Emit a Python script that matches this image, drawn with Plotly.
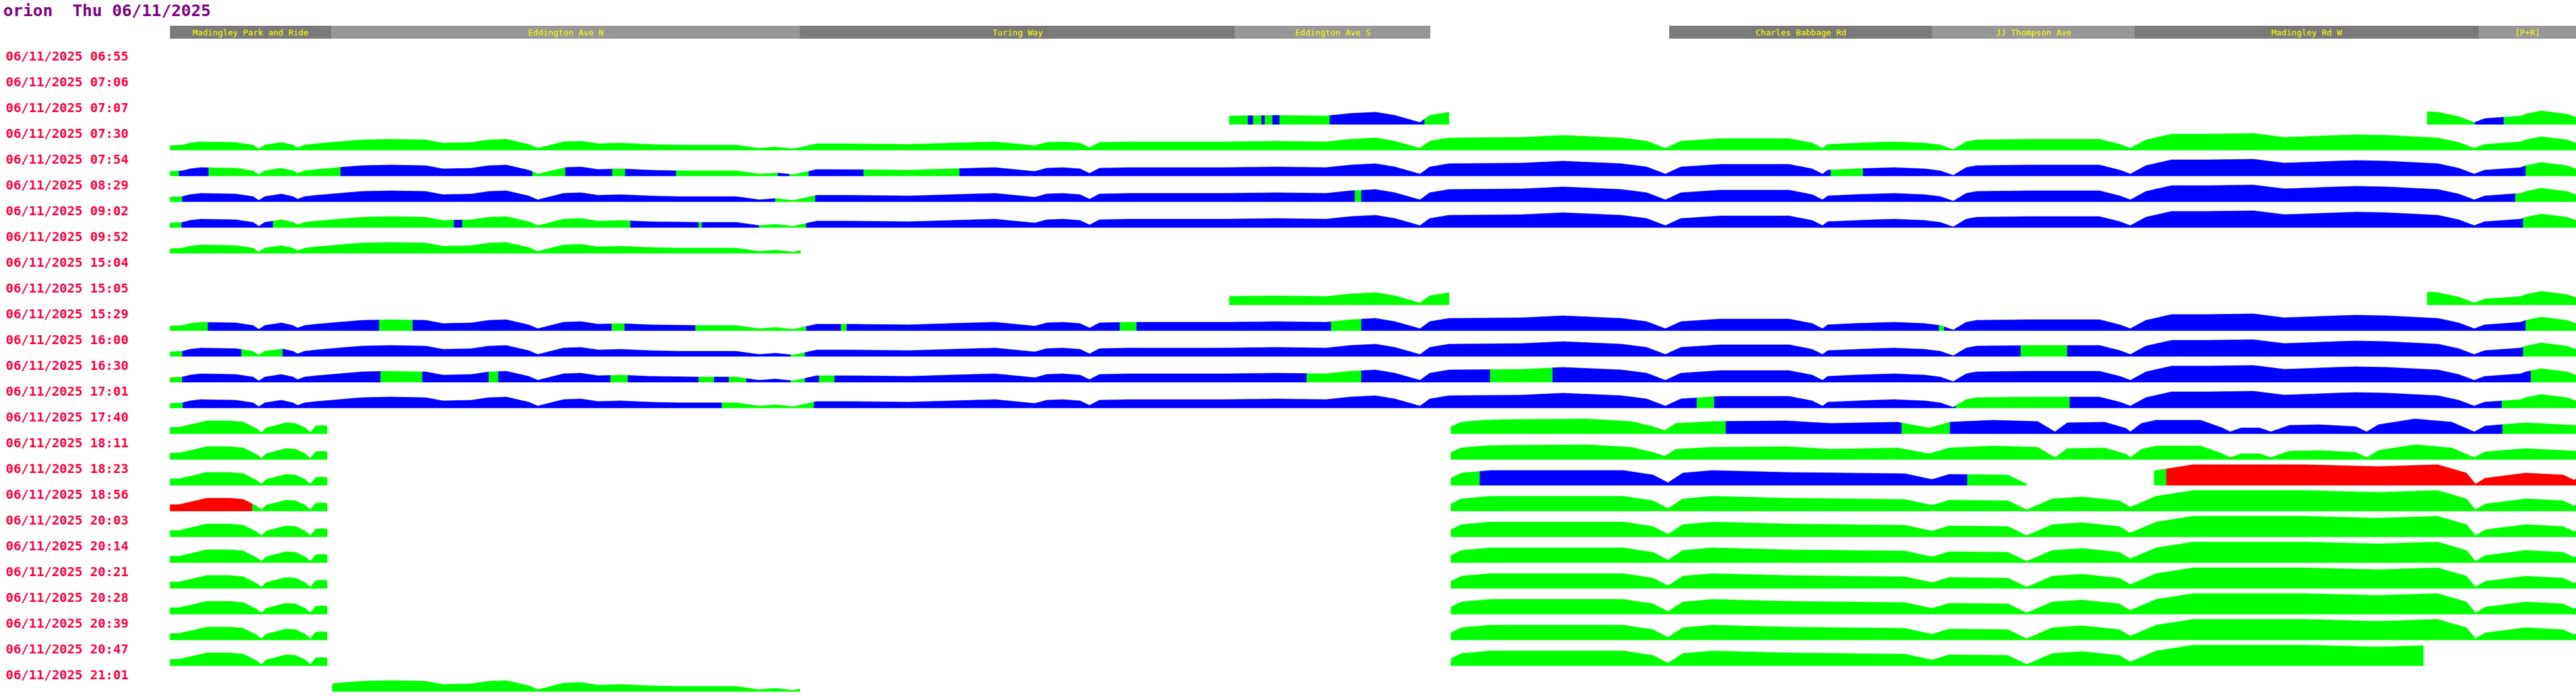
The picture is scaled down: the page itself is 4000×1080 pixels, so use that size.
import numpy as np
import plotly.graph_objects as go

# ---------------- data ----------------
title_text = "orion  Thu 06/11/2025"
row_date = "06/11/2025"
row_times = ["06:55", "07:06", "07:07", "07:30", "07:54", "08:29", "09:02", "09:52",
             "15:04", "15:05", "15:29", "16:00", "16:30", "17:01", "17:40", "18:11",
             "18:23", "18:56", "20:03", "20:14", "20:21", "20:28", "20:39", "20:47", "21:01"]

section_names = ["Madingley Park and Ride", "Eddington Ave N", "Turing Way", "Eddington Ave S",
                 "Charles Babbage Rd", "JJ Thompson Ave", "Madingley Rd W", "[P+R]"]
section_start = [264, 514, 1242, 1917, 2592, 3000, 3315, 3849]
section_end = [514, 1242, 1917, 2221, 3000, 3315, 3849, 4000]
section_shade = ["dark", "light", "dark", "light", "dark", "light", "dark", "light"]

# speed profile along the route (daytime journeys)
day_x = [264, 283, 295, 312, 366, 393, 402, 411, 437, 455, 462, 473, 491, 536, 562, 607, 661,
         688, 732, 759, 786, 821, 835, 875, 902, 929, 964, 1009, 1054, 1143, 1179, 1204, 1232,
         1268, 1321, 1411, 1473, 1545, 1607, 1625, 1650, 1677, 1692, 1707,
         1753, 1830, 1906, 1983, 2059, 2097, 2136, 2166, 2205, 2220, 2250, 2365, 2427, 2518,
         2557, 2586, 2610, 2671, 2778, 2814, 2830, 2838, 2878, 2909, 2941, 2989, 3013, 3033,
         3053, 3069, 3149, 3260, 3292, 3308, 3332, 3372, 3428, 3499, 3547, 3627, 3659, 3707,
         3786, 3818, 3842, 3858, 3914, 3922, 3946, 3986, 4000]
day_h = [7, 8, 11, 13, 12, 8, 2, 8, 12, 8, 4, 8, 10, 14, 16, 17, 16,
         11, 12, 16, 17, 9, 3, 13, 14, 10, 11, 9, 8, 8, 3, 5, 2,
         10, 10, 9, 11, 13, 7, 12, 13, 11, 4, 12,
         13, 13, 13, 14, 13, 17, 19, 14, 3, 14, 19, 20, 23, 19,
         14, 3, 14, 18, 18, 11, 3, 9, 11, 12, 13, 11, 8, 1,
         13, 16, 17, 17, 9, 3, 16, 25, 25, 26, 20, 23, 24, 23,
         19, 12, 3, 9, 13, 16, 21, 16, 11]

# evening journeys, western loop
eve_left_x = [264, 278, 286, 306, 321, 357, 378, 398, 406, 413, 429, 444, 459, 474, 482, 490, 500, 508]
eve_left_h = [10, 10, 12, 17, 20, 20, 18, 8, 2, 9, 13, 17, 16, 9, 2, 12, 13, 12]

# early evening, eastern part
eve_a_x = [2253, 2269, 2303, 2338, 2464, 2533, 2567, 2585, 2602, 2659, 2774, 2843, 2889, 2946,
           2996, 3027, 3095, 3164, 3191, 3210, 3268, 3302, 3308, 3325, 3348, 3417, 3451, 3463,
           3480, 3509, 3526, 3555, 3601, 3658, 3675, 3693, 3750, 3807, 3842, 3859, 3922, 4000]
eve_a_h = [11, 18, 21, 22, 23, 19, 11, 5, 16, 19, 20, 16, 17, 18,
           9, 18, 21, 19, 3, 17, 18, 8, 3, 16, 21, 21, 9, 3,
           9, 9, 3, 13, 14, 11, 3, 14, 23, 18, 3, 12, 17, 13]

# late evening, eastern part
eve_b_x = [2253, 2269, 2315, 2430, 2521, 2567, 2590, 2613, 2659, 2774, 2889, 2958, 3000, 3027,
           3118, 3147, 3187, 3233, 3291, 3308, 3348, 3406, 3578, 3693, 3785, 3830, 3844, 3859,
           3922, 3980, 3997, 4000]
eve_b_h = [11, 19, 23, 23, 23, 16, 4, 19, 23, 20, 19, 18, 9, 17,
           16, 2, 19, 22, 16, 6, 23, 32, 32, 29, 32, 19, 2, 11,
           19, 16, 8, 10]

row_profile = ["day", "day", "day", "day", "day", "day", "day", "day", "day", "day", "day", "day",
               "day", "day", "eveA", "eveA", "eveB", "eveB", "eveB", "eveB", "eveB", "eveB",
               "eveB", "eveB", "day"]

# status segments along the route: (from, to, status)  g=normal b=slow r=very slow
row_segments = [
    [],
    [],
    [(1909, 1938, "g"), (1938, 1946, "b"), (1946, 1959, "g"), (1959, 1964, "b"), (1964, 1976, "g"),
     (1976, 1987, "b"), (1987, 2065, "g"), (2065, 2212, "b"), (2212, 2250, "g"),
     (3769, 3843, "g"), (3843, 3888, "b"), (3888, 4000, "g")],
    [(264, 4000, "g")],
    [(264, 278, "g"), (278, 324, "b"), (324, 529, "g"), (529, 827, "b"), (827, 878, "g"),
     (878, 951, "b"), (951, 971, "g"), (971, 1050, "b"), (1050, 1208, "g"), (1208, 1226, "b"),
     (1226, 1256, "g"), (1256, 1341, "b"), (1341, 1490, "g"), (1490, 2843, "b"), (2843, 2893, "g"),
     (2893, 3922, "b"), (3922, 4000, "g")],
    [(264, 283, "g"), (283, 1204, "b"), (1204, 1266, "g"), (1266, 2104, "b"), (2104, 2114, "g"),
     (2114, 3906, "b"), (3906, 4000, "g")],
    [(264, 282, "g"), (282, 424, "b"), (424, 705, "g"), (705, 718, "b"), (718, 979, "g"),
     (979, 1085, "b"), (1085, 1090, "g"), (1090, 1179, "b"), (1179, 1252, "g"), (1252, 3918, "b"),
     (3918, 4000, "g")],
    [(264, 1243, "g")],
    [],
    [(1909, 2250, "g"), (3769, 4000, "g")],
    [(264, 323, "g"), (323, 589, "b"), (589, 641, "g"), (641, 950, "b"), (950, 970, "g"),
     (970, 1080, "b"), (1080, 1252, "g"), (1252, 1306, "b"), (1306, 1315, "g"), (1315, 1739, "b"),
     (1739, 1765, "g"), (1765, 2067, "b"), (2067, 2114, "g"), (2114, 3011, "b"), (3011, 3019, "g"),
     (3019, 3922, "b"), (3922, 4000, "g")],
    [(264, 283, "g"), (283, 375, "b"), (375, 439, "g"), (439, 1228, "b"), (1228, 1250, "g"),
     (1250, 3138, "b"), (3138, 3210, "g"), (3210, 3918, "b"), (3918, 4000, "g")],
    [(264, 283, "g"), (283, 591, "b"), (591, 656, "g"), (656, 759, "b"), (759, 774, "g"),
     (774, 948, "b"), (948, 975, "g"), (975, 1085, "b"), (1085, 1109, "g"), (1109, 1132, "b"),
     (1132, 1159, "g"), (1159, 1228, "b"), (1228, 1250, "g"), (1250, 1272, "b"), (1272, 1296, "g"),
     (1296, 2029, "b"), (2029, 2114, "g"), (2114, 2314, "b"), (2314, 2411, "g"), (2411, 3930, "b"),
     (3930, 4000, "g")],
    [(264, 284, "g"), (284, 1121, "b"), (1121, 1264, "g"), (1264, 2635, "b"), (2635, 2662, "g"),
     (2662, 3037, "b"), (3037, 3214, "g"), (3214, 3885, "b"), (3885, 4000, "g")],
    [(264, 508, "g"), (2253, 2680, "g"), (2680, 2953, "b"), (2953, 3028, "g"), (3028, 3886, "b"),
     (3886, 4000, "g")],
    [(264, 508, "g"), (2253, 4000, "g")],
    [(264, 508, "g"), (2253, 2298, "g"), (2298, 3055, "b"), (3055, 3147, "g"), (3345, 3364, "g"),
     (3364, 4000, "r")],
    [(264, 392, "r"), (392, 508, "g"), (2253, 4000, "g")],
    [(264, 508, "g"), (2253, 4000, "g")],
    [(264, 508, "g"), (2253, 4000, "g")],
    [(264, 508, "g"), (2253, 4000, "g")],
    [(264, 508, "g"), (2253, 4000, "g")],
    [(264, 508, "g"), (2253, 4000, "g")],
    [(264, 508, "g"), (2253, 3763, "g")],
    [(516, 1242, "g")],
]

# ---------------- styles ----------------
STATUS_COLOR = {"g": "#00ff00", "b": "#0000ff", "r": "#ff0000"}
SHADE_COLOR = {"dark": "#7a7a7a", "light": "#979797"}
SPEED_PER_ROW = 40.0   # speed units that fill one row band
MONO = "DejaVu Sans Mono"

profiles = {
    "day": (np.array(day_x, float), np.array(day_h, float)),
    "eveA": (np.array(eve_left_x + eve_a_x, float), np.array(eve_left_h + eve_a_h, float)),
    "eveB": (np.array(eve_left_x + eve_b_x, float), np.array(eve_left_h + eve_b_h, float)),
}

fig = go.Figure()

for i, segs in enumerate(row_segments):
    px, ph = profiles[row_profile[i]]
    for (a, b, s) in segs:
        inner = (px > a) & (px < b)
        xs = np.concatenate([[a], px[inner], [b]])
        hs = np.concatenate([[np.interp(a, px, ph)], ph[inner], [np.interp(b, px, ph)]])
        poly_x = np.concatenate([[a], xs, [b, a]])
        poly_y = np.concatenate([[i], i - hs / SPEED_PER_ROW, [i, i]])
        fig.add_trace(go.Scatter(
            x=poly_x, y=poly_y, mode="lines", fill="toself",
            fillcolor=STATUS_COLOR[s], line=dict(color=STATUS_COLOR[s], width=0.6),
            hoverinfo="skip", showlegend=False))

annotations = []
shapes = []

# row labels
for i, t in enumerate(row_times):
    annotations.append(dict(
        x=7, y=i - 0.64, xref="x", yref="y", xanchor="left", yanchor="middle",
        text=f"<b>{row_date} {t}</b>", showarrow=False,
        font=dict(family=MONO, size=19.8, color="#ff0040")))

# header sections
for name, a, b, shade in zip(section_names, section_start, section_end, section_shade):
    shapes.append(dict(type="rect", xref="x", yref="y", x0=a, x1=b, y0=-1.825, y1=-1.325,
                       fillcolor=SHADE_COLOR[shade], line=dict(width=0), layer="below"))
    annotations.append(dict(
        x=(a + b) / 2, y=-1.575, xref="x", yref="y", xanchor="center", yanchor="middle",
        text=name, showarrow=False, font=dict(family=MONO, size=13, color="#ffff00")))

# title
annotations.append(dict(
    x=3, y=-2.43, xref="x", yref="y", xanchor="left", yanchor="middle",
    text=f"<b>{title_text}</b>", showarrow=False,
    font=dict(family=MONO, size=25.5, color="#800080")))

fig.update_layout(
    width=4000, height=1080,
    margin=dict(l=0, r=0, t=0, b=0),
    paper_bgcolor="white", plot_bgcolor="white",
    showlegend=False,
    xaxis=dict(range=[0, 4000], visible=False, fixedrange=True),
    yaxis=dict(range=[24.175, -2.825], visible=False, fixedrange=True),
    annotations=annotations, shapes=shapes,
)

fig.write_html("out.html",
               config={"displayModeBar": False, "staticPlot": True},
               post_script="document.body.style.margin='0';document.body.style.padding='0';")
